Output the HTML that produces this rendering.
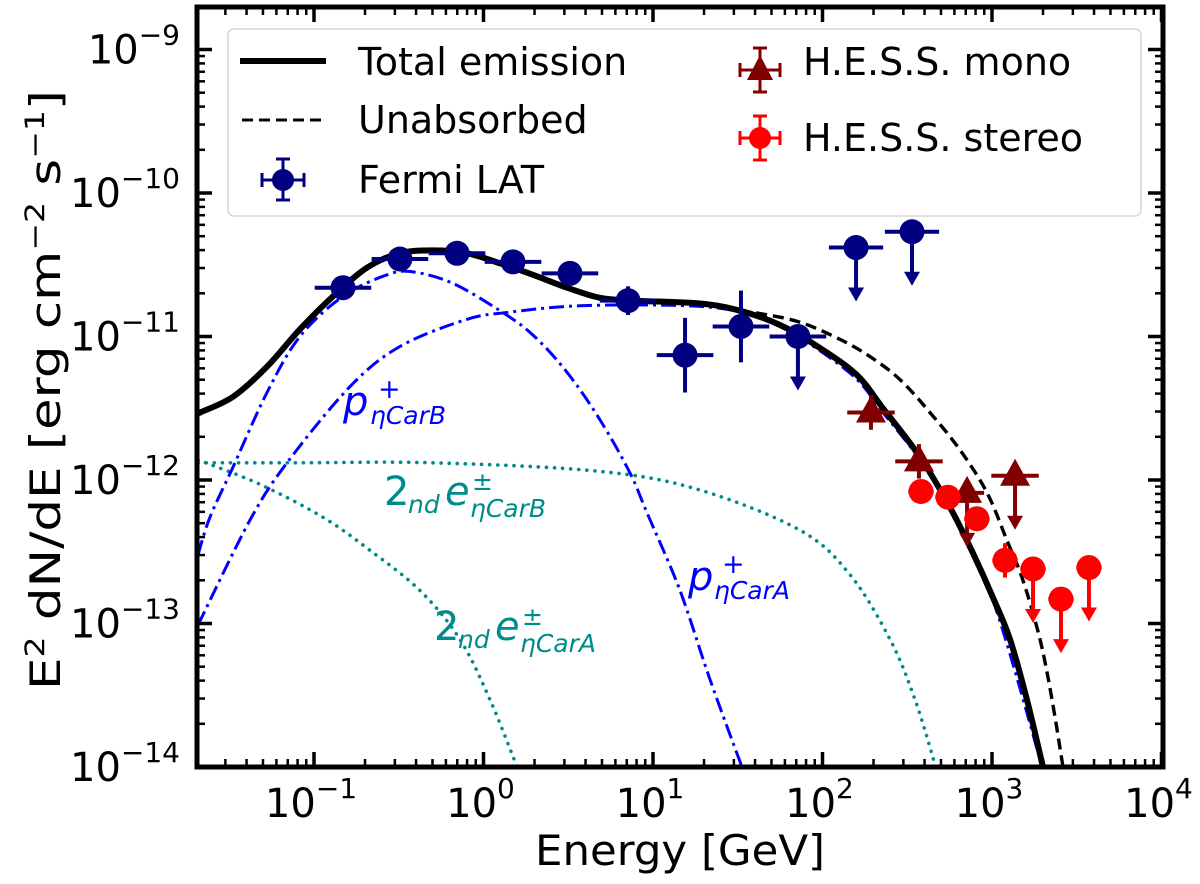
<!DOCTYPE html>
<html><head><meta charset="utf-8"><style>
html,body{margin:0;padding:0;background:#fff;}
svg{display:block;font-family:"DejaVu Sans","Liberation Sans",sans-serif;}
</style></head><body>
<svg id="chart" width="1200" height="884" viewBox="0 0 1200 884" xmlns="http://www.w3.org/2000/svg">
<g id="curves"></g>
<g id="points"></g>
<g id="axes"></g>
<g font-style="italic">
  <g fill="#0000ff">
    <text x="343" y="415" font-size="40">p</text>
    <text x="378" y="398" font-size="27" font-style="normal">+</text>
    <text x="370" y="424" font-size="25">ηCarB</text>
  </g>
  <g fill="#008b8b">
    <text x="384" y="505" font-size="40" font-style="normal">2</text>
    <text x="408" y="513" font-size="25">nd</text>
    <text x="445" y="505" font-size="40">e</text>
    <text x="472" y="490" font-size="25" font-style="normal">±</text>
    <text x="470" y="517" font-size="25">ηCarB</text>
  </g>
  <g fill="#0000ff">
    <text x="688" y="590" font-size="40">p</text>
    <text x="722" y="573" font-size="27" font-style="normal">+</text>
    <text x="714" y="599" font-size="25">ηCarA</text>
  </g>
  <g fill="#008b8b">
    <text x="434" y="640" font-size="40" font-style="normal">2</text>
    <text x="458" y="648" font-size="25">nd</text>
    <text x="495" y="640" font-size="40">e</text>
    <text x="522" y="625" font-size="25" font-style="normal">±</text>
    <text x="520" y="652" font-size="25">ηCarA</text>
  </g>
</g>
<g>
  <rect x="228" y="29" width="913" height="187" rx="6" fill="#fff" fill-opacity="0.85" stroke="#d6d6d6" stroke-width="1.5"/>
  <g>
    <line x1="240" y1="61" x2="326" y2="61" stroke="#000" stroke-width="6"/>
    <text x="358" y="75" font-size="38">Total emission</text>
  </g>
  <g>
    <line x1="242" y1="120" x2="326" y2="120" stroke="#000" stroke-width="3" stroke-dasharray="11,6"/>
    <text x="358" y="133" font-size="38">Unabsorbed</text>
  </g>
  <g stroke="#000080" stroke-width="3" fill="#000080">
    <line x1="262" y1="180" x2="304" y2="180"/><line x1="283" y1="159" x2="283" y2="200"/>
    <line x1="262" y1="173" x2="262" y2="187"/><line x1="304" y1="173" x2="304" y2="187"/>
    <line x1="276" y1="159" x2="290" y2="159"/><line x1="276" y1="200" x2="290" y2="200"/>
    <circle cx="283" cy="180" r="11" stroke="none"/>
    <text x="358" y="193" font-size="38" fill="#000" stroke="none">Fermi LAT</text>
  </g>
  <g stroke="#800000" stroke-width="3" fill="#800000">
    <line x1="740" y1="70" x2="780" y2="70"/><line x1="760" y1="48" x2="760" y2="92"/>
    <line x1="740" y1="63" x2="740" y2="77"/><line x1="780" y1="63" x2="780" y2="77"/>
    <line x1="753" y1="48" x2="767" y2="48"/><line x1="753" y1="92" x2="767" y2="92"/>
    <polygon points="760,55 773,80 747,80" stroke="none"/>
    <text x="803" y="75" font-size="38" fill="#000" stroke="none">H.E.S.S. mono</text>
  </g>
  <g stroke="#ff0000" stroke-width="3" fill="#ff0000">
    <line x1="740" y1="138" x2="780" y2="138"/><line x1="760" y1="116" x2="760" y2="160"/>
    <line x1="740" y1="131" x2="740" y2="145"/><line x1="780" y1="131" x2="780" y2="145"/>
    <line x1="753" y1="116" x2="767" y2="116"/><line x1="753" y1="160" x2="767" y2="160"/>
    <circle cx="760" cy="138" r="11" stroke="none"/>
    <text x="803" y="151" font-size="38" fill="#000" stroke="none">H.E.S.S. stereo</text>
  </g>
</g>
<text x="680" y="865" font-size="42" text-anchor="middle" textLength="290" lengthAdjust="spacingAndGlyphs">Energy [GeV]</text>
<text transform="translate(60,390) rotate(-90)" font-size="42" text-anchor="middle" textLength="600" lengthAdjust="spacingAndGlyphs">E<tspan dy="-16" font-size="27">2</tspan><tspan dy="16"> dN/dE [erg cm</tspan><tspan dy="-16" font-size="27">−2</tspan><tspan dy="16"> s</tspan><tspan dy="-16" font-size="27">−1</tspan><tspan dy="16">]</tspan></text>
</svg>
<script>
// ----- data (log10 E [GeV], log10 E^2 dN/dE) -----
const totalLogE = [-1.69,-1.673,-1.478,-1.277,-1.083,-0.888,-0.687,-0.493,-0.298,-0.097,0.097,0.292,0.493,0.687,0.882,1.277,1.513,1.749,1.985,2.204,2.357,2.575,2.752,2.888,3.006,3.106,3.206,3.301];
const totalLogF = [-11.54,-11.53,-11.42,-11.21,-10.95,-10.72,-10.52,-10.42,-10.40,-10.42,-10.49,-10.57,-10.66,-10.73,-10.75,-10.77,-10.82,-10.92,-11.08,-11.27,-11.50,-11.84,-12.19,-12.51,-12.82,-13.11,-13.53,-14.00];
const unabsLogE = [-1.69,-1.673,-1.478,-1.277,-1.083,-0.888,-0.687,-0.493,-0.298,-0.097,0.097,0.292,0.493,0.687,0.882,1.277,1.513,1.631,1.867,2.103,2.280,2.457,2.634,2.811,2.971,3.088,3.183,3.283,3.354,3.419];
const unabsLogF = [-11.54,-11.53,-11.42,-11.21,-10.95,-10.72,-10.52,-10.42,-10.40,-10.42,-10.49,-10.57,-10.66,-10.73,-10.75,-10.77,-10.82,-10.84,-10.90,-11.02,-11.14,-11.30,-11.53,-11.79,-12.09,-12.42,-12.70,-13.11,-13.53,-14.00];
const pALogE = [-1.684,-1.614,-1.478,-1.277,-1.083,-0.829,-0.569,-0.416,-0.180,0.097,0.292,0.493,0.687,0.864,0.965,1.159,1.336,1.525];
const pALogF = [-12.52,-12.26,-11.91,-11.39,-11.00,-10.72,-10.57,-10.55,-10.63,-10.82,-10.99,-11.25,-11.58,-11.95,-12.23,-12.77,-13.39,-14.00];
const pBLogE = [-1.684,-1.378,-1.159,-0.788,-0.493,-0.097,0.156,0.493,0.882,1.277,1.513,1.749,1.985,2.204,2.357,2.575,2.752,3.006,3.301];
const pBLogF = [-13.01,-12.28,-11.88,-11.35,-11.07,-10.88,-10.83,-10.79,-10.78,-10.79,-10.83,-10.93,-11.10,-11.30,-11.53,-11.86,-12.21,-12.84,-14.02];
const eBLogE = [-1.684,-1.083,-0.298,0.687,1.277,1.867,2.162,2.398,2.546,2.668];
const eBLogF = [-11.88,-11.88,-11.88,-11.94,-12.07,-12.35,-12.66,-13.11,-13.53,-14.00];
const eALogE = [-1.684,-1.319,-0.947,-0.670,-0.375,-0.139,0.038,0.198];
const eALogF = [-11.86,-12.03,-12.26,-12.49,-12.77,-13.11,-13.53,-14.00];

const fermiLogE = [-0.829,-0.493,-0.156,0.174,0.510,0.853,1.189,1.519,1.855,2.198,2.528];
const fermiLogF = [-10.66,-10.46,-10.42,-10.48,-10.56,-10.75,-11.13,-10.93,-11.00,-10.38,-10.27];
const fermiErr  = [0.05,0.04,0.04,0.04,0.05,0.10,0.26,0.25,0.18,0,0];
const fermiUL   = [0,0,0,0,0,0,0,0,1,1,1];
const fermiXErr = [0.167,0.167,0.167,0.167,0.167,0.167,0.167,0.167,0.167,0.16,0.16];

const monoLogE = [2.286,2.569,2.853,3.136];
const monoLogF = [-11.53,-11.87,-12.09,-11.97];
const monoErr  = [0.12,0.12,0.12,0];
const monoUL   = [0,0,1,1];
const monoXErr = [0.14,0.14,0.10,0.14];

const stereoLogE = [2.581,2.740,2.911,3.077,3.242,3.407,3.572];
const stereoLogF = [-12.08,-12.12,-12.27,-12.56,-12.62,-12.83,-12.61];
const stereoErr  = [0.08,0.07,0.07,0.12,0,0,0];
const stereoUL   = [0,0,0,0,1,1,1];
const stereoXErr = [0.075,0.075,0.075,0.075,0.075,0.075,0.075];

const xTickExp = [-1,0,1,2,3,4];
const yTickExp = [-9,-10,-11,-12,-13,-14];

// ----- axes -----
const L=197, R=1163, T=7, B=767;
const X0=483.5, XD=169.5, YD=143.5;
function sx(le){return X0+le*XD;}
function sy(lf){return B-(lf+14)*YD;}
const NS="http://www.w3.org/2000/svg";
function mk(tag,attrs,parent){const e=document.createElementNS(NS,tag);for(const k in attrs)e.setAttribute(k,attrs[k]);parent.appendChild(e);return e;}

const curves=document.getElementById('curves');
const cp=mk('clipPath',{id:'clip'},curves);
mk('rect',{x:L,y:T,width:R-L,height:B-T},cp);
const cg=mk('g',{'clip-path':'url(#clip)'},curves);

function smoothPath(xs,ys){
  const p=xs.map((x,i)=>[sx(x),sy(ys[i])]);
  let d='M'+p[0][0].toFixed(1)+','+p[0][1].toFixed(1);
  for(let i=0;i<p.length-1;i++){
    const p0=p[i-1]||p[i],p1=p[i],p2=p[i+1],p3=p[i+2]||p2;
    const c1=[p1[0]+(p2[0]-p0[0])/6,p1[1]+(p2[1]-p0[1])/6];
    const c2=[p2[0]-(p3[0]-p1[0])/6,p2[1]-(p3[1]-p1[1])/6];
    d+='C'+c1.map(v=>v.toFixed(1))+' '+c2.map(v=>v.toFixed(1))+' '+p2[0].toFixed(1)+','+p2[1].toFixed(1);
  }
  return d;
}
let el;
el=mk('path',{d:smoothPath(eBLogE,eBLogF),fill:'none',stroke:'#008b8b','stroke-width':3.6,'stroke-dasharray':'0.1,8','stroke-linecap':'round'},cg);


el=mk('path',{d:smoothPath(eALogE,eALogF),fill:'none',stroke:'#008b8b','stroke-width':3.6,'stroke-dasharray':'0.1,8','stroke-linecap':'round'},cg);


el=mk('path',{d:smoothPath(pALogE,pALogF),fill:'none',stroke:'#0000ff','stroke-width':3,'stroke-dasharray':'15,5,3,5'},cg);


el=mk('path',{d:smoothPath(pBLogE,pBLogF),fill:'none',stroke:'#0000ff','stroke-width':3,'stroke-dasharray':'15,5,3,5'},cg);


el=mk('path',{d:smoothPath(unabsLogE,unabsLogF),fill:'none',stroke:'#000','stroke-width':3.4,'stroke-dasharray':'11,6'},cg);


el=mk('path',{d:smoothPath(totalLogE,totalLogF),fill:'none',stroke:'#000','stroke-width':6},cg);



// ----- points -----
const pts=document.getElementById('points');
function drawSeries(name,le,lf,err,ul,xerr,color,shape){
  for(let i=0;i<le.length;i++){
    const g=mk('g',{stroke:color,fill:color,'stroke-width':4},pts);
    
    
    const x=sx(le[i]),y=sy(lf[i]);
    mk('line',{x1:sx(le[i]-xerr[i]),y1:y,x2:sx(le[i]+xerr[i]),y2:y},g);
    if(ul[i]){
      const y2=y+52;
      mk('line',{x1:x,y1:y,x2:x,y2:y2-8},g);
      mk('polygon',{points:`${x-8},${y2-12} ${x+8},${y2-12} ${x},${y2+2}`,stroke:'none'},g);
    } else if(err[i]>0){
      mk('line',{x1:x,y1:sy(lf[i]+err[i]),x2:x,y2:sy(lf[i]-err[i])},g);
    }
    if(shape==='tri') mk('polygon',{points:`${x},${y-17} ${x+15},${y+10} ${x-15},${y+10}`,stroke:'none'},g);
    else mk('circle',{cx:x,cy:y,r:12.5,stroke:'none'},g);
  }
}
drawSeries('fermi',fermiLogE,fermiLogF,fermiErr,fermiUL,fermiXErr,'#000080','big');
drawSeries('hess-mono',monoLogE,monoLogF,monoErr,monoUL,monoXErr,'#800000','tri');
drawSeries('hess-stereo',stereoLogE,stereoLogF,stereoErr,stereoUL,stereoXErr,'#ff0000','oct');

// ----- axes frame, ticks, labels -----
const ax=document.getElementById('axes');
el=mk('rect',{x:L,y:T,width:R-L,height:B-T,fill:'none',stroke:'#000','stroke-width':5},ax);


const tg=mk('g',{stroke:'#000'},ax);
for(let d=-2;d<=4;d++){
  for(let m=1;m<10;m++){
    const le=d+Math.log10(m);const x=sx(le);
    if(x<L+1||x>R-1)continue;
    const len=m===1?15:8,w=m===1?3.5:2.5;
    mk('line',{x1:x,y1:B,x2:x,y2:B-len,'stroke-width':w},tg);
    mk('line',{x1:x,y1:T,x2:x,y2:T+len,'stroke-width':w},tg);
  }
}
for(let d=-15;d<=-8;d++){
  for(let m=1;m<10;m++){
    const lf=d+Math.log10(m);const y=sy(lf);
    if(y<T+1||y>B)continue;
    const len=m===1?15:8,w=m===1?3.5:2.5;
    mk('line',{x1:L,y1:y,x2:L+len,y2:y,'stroke-width':w},tg);
    mk('line',{x1:R,y1:y,x2:R-len,y2:y,'stroke-width':w},tg);
  }
}
xTickExp.forEach(e=>{
  const t=mk('text',{x:sx(e)-3,y:817,'font-size':40,'text-anchor':'middle'},ax);
  
  
  t.innerHTML='10<tspan dy="-19" font-size="28">'+(e<0?'−'+(-e):e)+'</tspan>';
});
yTickExp.forEach(e=>{
  const t=mk('text',{x:180,y:sy(e)+14,'font-size':40,'text-anchor':'end'},ax);
  
  
  t.innerHTML='10<tspan dy="-19" font-size="28">−'+(-e)+'</tspan>';
});
</script>
</body></html>
